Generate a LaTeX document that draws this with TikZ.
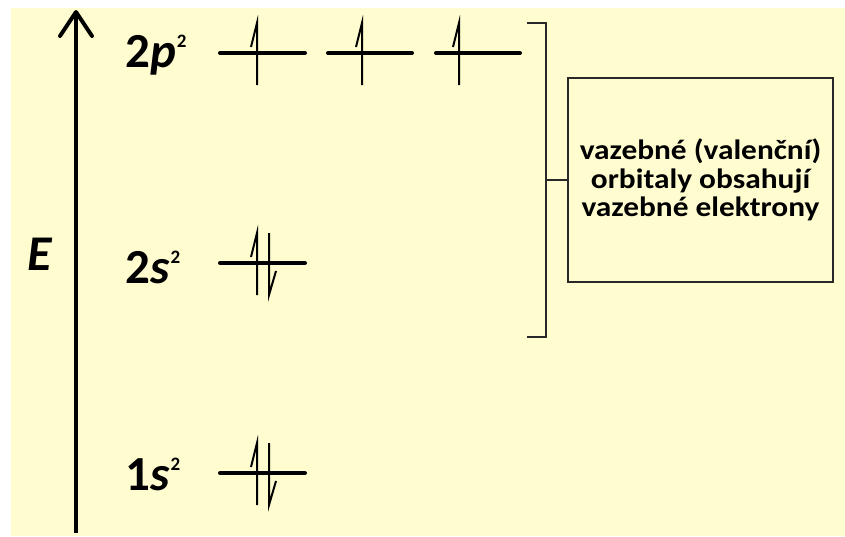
\documentclass[tikz,border=0pt]{standalone}
\usepackage{fontspec}
\setmainfont{Carlito}
\newfontfamily\boxfont[FakeStretch=1.12]{Carlito}
\definecolor{bgyellow}{RGB}{255,253,208}
\definecolor{boxgray}{RGB}{40,40,40}
\begin{document}
\begin{tikzpicture}[x=1pt,y=-1pt,
  level/.style={line width=4pt,line cap=round},
  spin/.style={line width=2pt,line join=miter},
  lbl/.style={anchor=base west,inner sep=0pt,font=\fontsize{49}{49}\selectfont\bfseries},
  infobox/.style={draw=boxgray,line width=1.8pt,minimum width=265pt,minimum height=204pt,inner sep=0pt,align=center,font=\boxfont\fontsize{28}{28.5}\selectfont\bfseries},
  bracket/.style={line width=2.4pt,draw=boxgray}]
\useasboundingbox (0,0) rectangle (845,536);
\fill[white] (0,0) rectangle (845,536);
\fill[bgyellow] (11,8) rectangle (845,536);
% energy axis
\coordinate (axbot) at (76,533);
\coordinate (axtop) at (76,12);
\draw[line width=4pt] (axbot) -- (axtop);
\draw[line width=4pt,line cap=round,line join=round] (60,36) -- (axtop) -- (92,36);
\node[anchor=base west,inner sep=0pt,font=\fontsize{50}{50}\selectfont\bfseries\itshape] (E) at (27,270) {E};
% labels
\newcommand{\supII}{\kern1pt\raisebox{20pt}{\fontsize{19}{19}\selectfont 2}}
\node[lbl] (l2p) at (125,67) {2\textit{p}\supII};
\node[lbl] (l2s) at (125,283) {2\textit{s}\supII};
\node[lbl] (l1s) at (125,490) {1\textit{s}\supII};
% 2p levels
\coordinate (p1a) at (220,53); \coordinate (p1b) at (305,53);
\coordinate (p2a) at (328,53); \coordinate (p2b) at (412,53);
\coordinate (p3a) at (436,53); \coordinate (p3b) at (520,53);
\draw[level] (p1a) -- (p1b);
\draw[level] (p2a) -- (p2b);
\draw[level] (p3a) -- (p3b);
\draw[spin] (257,85) -- (257,23) -- (251,47);
\draw[spin] (362,85) -- (362,23) -- (356,47);
\draw[spin] (459,85) -- (459,23) -- (453,47);
% 2s level
\coordinate (s2a) at (220,263); \coordinate (s2b) at (305,263);
\draw[level] (s2a) -- (s2b);
\draw[spin] (257,295) -- (257,233) -- (251,257);
\draw[spin] (269,233) -- (269,295) -- (276,271);
% 1s level
\coordinate (s1a) at (220,473); \coordinate (s1b) at (305,473);
\draw[level] (s1a) -- (s1b);
\draw[spin] (257,505) -- (257,443) -- (251,467);
\draw[spin] (269,443) -- (269,505) -- (276,481);
% bracket and box
\node[infobox] (box) at (700.5,180) {vazebné (valenční)\\orbitaly obsahují\\vazebné elektrony};
\coordinate (brtop) at (546,23);
\coordinate (brbot) at (546,337);
\coordinate (brmid) at (546,180);
\draw[bracket,line join=miter] (527,23) -- (brtop) -- (brbot) -- (527,337);
\draw[bracket] (brmid) -- (box.west);
\end{tikzpicture}
\end{document}
